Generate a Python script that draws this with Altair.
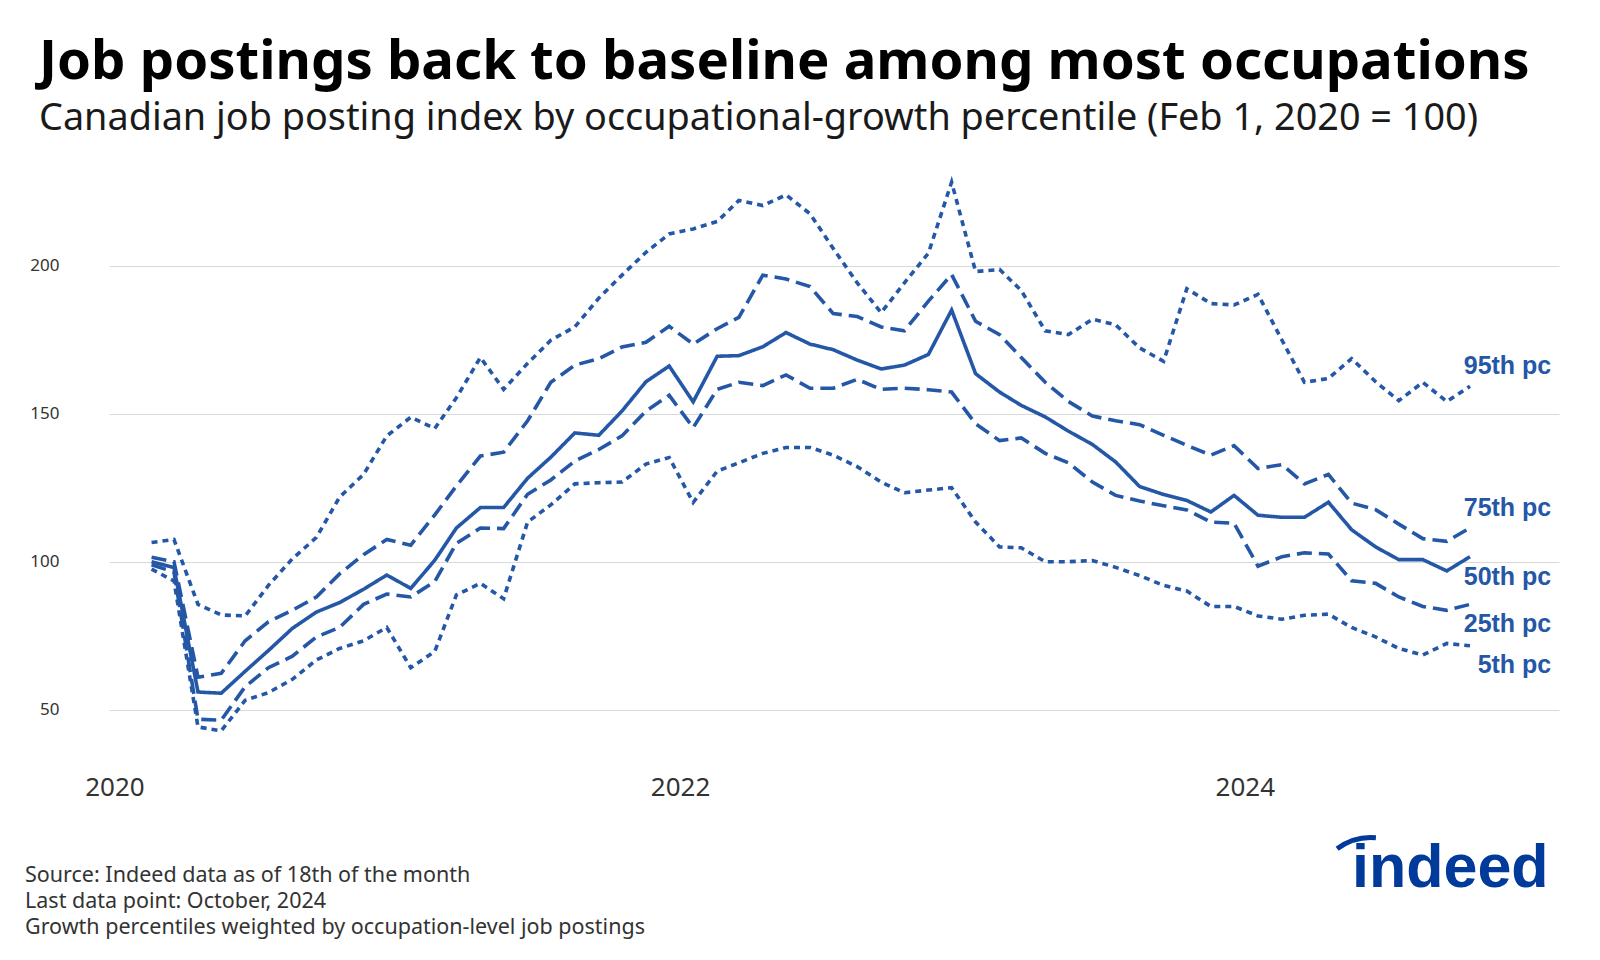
import altair as alt
import pandas as pd

# Monthly observations (18th of each month), Feb 2020 - Oct 2024
months = pd.date_range("2020-02-01", periods=57, freq="MS") + pd.Timedelta(days=17)
dates = [d.strftime("%Y-%m-%d") for d in months]

p95 = [106.5, 107.5, 85.6, 82.0, 81.7, 92.0, 101.0, 108.2, 121.8, 129.5,
       142.5, 148.8, 145.0, 155.4, 169.0, 158.2, 167.0, 174.8, 179.3, 189.0,
       196.8, 204.5, 210.7, 212.4, 214.9, 222.0, 220.3, 223.9, 217.5, 205.8,
       194.2, 184.1, 194.2, 204.2, 228.2, 198.0, 198.7, 191.6, 178.0, 176.7,
       181.9, 180.0, 172.2, 167.7, 192.2, 187.2, 186.7, 190.3, 174.8, 160.6,
       161.9, 168.6, 160.8, 154.4, 160.6, 154.1, 159.3]
p75 = [101.5, 100.0, 61.0, 62.3, 73.3, 79.7, 83.6, 88.1, 95.9, 102.4,
       107.5, 105.6, 115.8, 125.6, 135.7, 137.0, 147.6, 160.6, 166.4, 168.6,
       172.5, 174.1, 179.5, 173.5, 178.7, 182.5, 196.8, 195.5, 192.9, 183.8,
       182.8, 179.3, 178.0, 188.0, 197.0, 181.2, 176.7, 169.0, 160.6, 154.1,
       149.2, 147.6, 146.3, 142.7, 139.3, 136.0, 139.2, 131.5, 132.8, 126.3,
       129.5, 119.8, 117.6, 112.7, 107.8, 106.9, 111.4]
p50 = [100.0, 98.0, 56.0, 55.6, 63.0, 70.0, 77.5, 83.0, 86.2, 90.7,
       95.5, 91.0, 100.5, 111.4, 118.3, 118.3, 128.2, 135.3, 143.5, 142.7,
       150.9, 160.8, 166.1, 154.0, 169.4, 169.6, 172.6, 177.4, 173.5, 171.6,
       168.1, 165.1, 166.4, 170.0, 185.0, 163.5, 157.3, 152.8, 148.9, 144.1,
       139.6, 133.7, 125.4, 122.7, 120.7, 116.8, 122.4, 115.7, 115.0, 115.0,
       120.1, 110.8, 105.0, 100.7, 100.7, 96.9, 101.7]
p25 = [99.0, 96.5, 46.8, 46.5, 57.8, 64.2, 68.1, 74.6, 77.8, 85.6,
       89.1, 88.1, 93.3, 106.2, 111.4, 111.2, 122.8, 127.6, 134.0, 137.9,
       142.5, 150.9, 156.2, 145.3, 158.2, 160.6, 159.5, 163.1, 158.6, 158.6,
       161.6, 158.2, 158.6, 158.1, 157.3, 146.6, 140.9, 141.8, 136.6, 133.4,
       126.9, 122.4, 120.5, 118.9, 117.5, 113.4, 113.0, 98.5, 101.7, 103.0,
       102.6, 93.6, 92.7, 88.1, 84.9, 83.6, 85.6]
p5 = [97.5, 93.5, 44.2, 42.9, 53.2, 55.8, 60.3, 66.8, 70.7, 73.3,
      77.8, 64.2, 69.7, 88.8, 92.7, 87.5, 113.4, 119.2, 126.3, 126.7,
      126.9, 133.0, 135.2, 120.0, 130.6, 133.4, 136.6, 138.6, 138.6, 136.0,
      132.1, 126.9, 123.3, 124.2, 125.0, 113.4, 105.0, 104.7, 100.0, 100.0,
      100.4, 98.1, 95.3, 92.0, 90.1, 84.9, 84.9, 81.7, 80.6, 81.9,
      82.3, 77.8, 74.6, 70.7, 68.5, 72.4, 71.6]

series_names = ["95th pc", "75th pc", "50th pc", "25th pc", "5th pc"]
series_values = [p95, p75, p50, p25, p5]
label_y = [166.0, 118.2, 94.8, 79.0, 65.2]
label_date = "2025-01-31"

footer_lines = [
    "Source: Indeed data as of 18th of the month",
    "Last data point: October, 2024",
    "Growth percentiles weighted by occupation-level job postings",
]

rows = []
for name, vals in zip(series_names, series_values):
    for d, v in zip(dates, vals):
        rows.append({"date": d, "value": v, "series": name})
df = pd.DataFrame(rows)
lab = pd.DataFrame({"series": series_names, "value": label_y,
                    "date": [label_date] * len(series_names)})

BLUE = "#2557a7"
LOGO = "#003a9b"

x_enc = alt.X(
    "date:T",
    scale=alt.Scale(
        type="utc",
        domain=[alt.DateTime(year=2019, month=12, date=25, utc=True),
                alt.DateTime(year=2025, month=2, date=10, utc=True)],
    ),
    axis=alt.Axis(
        values=[alt.DateTime(year=yr, month=1, date=1, utc=True) for yr in (2020, 2022, 2024)],
        format="%Y", title=None, grid=False, domain=False, ticks=False,
        labelFontSize=26, labelFont="Noto Sans", labelColor="#333333", labelPadding=5,
    ),
)
y_enc = alt.Y(
    "value:Q",
    scale=alt.Scale(domain=[30, 235], nice=False, zero=False),
    axis=alt.Axis(
        values=[50, 100, 150, 200], title=None, domain=False, ticks=False,
        labelFontSize=17, labelFont="Noto Sans", labelColor="#333333", labelPadding=50,
        gridColor="#d9d9d9", gridWidth=1,
    ),
)

lines = alt.Chart(df).mark_line(strokeWidth=3.6, color=BLUE, strokeCap="butt").encode(
    x=x_enc,
    y=y_enc,
    detail="series:N",
    strokeDash=alt.StrokeDash(
        "series:N",
        scale=alt.Scale(domain=series_names,
                        range=[[6, 5], [15, 7], [1, 0], [15, 7], [6, 5]]),
        legend=None,
    ),
)

labels = alt.Chart(lab).mark_text(
    align="right", baseline="middle", font="Liberation Sans", fontWeight="bold",
    fontSize=25, color=BLUE,
).encode(x=alt.X("date:T"), y=alt.Y("value:Q"), text="series:N")

one = pd.DataFrame({"k": [0]})
footer_layers = []
for line_text, ypix in zip(footer_lines, [714.3, 740.3, 766.3]):
    footer_layers.append(
        alt.Chart(one).mark_text(
            align="left", baseline="middle", font="Noto Sans", fontSize=21.5,
            color="#333333",
        ).encode(x=alt.value(-84), y=alt.value(ypix), text=alt.value(line_text))
    )

logo = alt.Chart(one).mark_text(
    align="left", baseline="alphabetic", font="Liberation Sans", fontWeight="bold",
    fontSize=61, color=LOGO,
).encode(x=alt.value(1243), y=alt.value(725), text=alt.value("indeed"))

arc = alt.Chart(one).mark_arc(
    theta=5.64, theta2=6.37, radius=59, radius2=54, color=LOGO,
).encode(x=alt.value(1262), y=alt.value(732))

title = alt.TitleParams(
    text="Job postings back to baseline among most occupations",
    subtitle="Canadian job posting index by occupational-growth percentile (Feb 1, 2020 = 100)",
    anchor="start", frame="group", dx=-70, offset=23,
    fontSize=54.5, font="Noto Sans", fontWeight="bold", color="#000000",
    subtitleFont="Noto Sans", subtitleFontSize=37.8, subtitleColor="#1a1a1a",
    subtitlePadding=10,
)

chart = alt.layer(lines, labels, *footer_layers, arc, logo).properties(
    width=1450, height=607, title=title, background="white",
    autosize=alt.AutoSizeParams(type="none"),
    padding={"left": 101, "top": 154, "right": 25, "bottom": 175},
).configure_view(stroke="transparent", strokeWidth=0)

chart.save("out.html", embed_options={"renderer": "svg", "actions": False})
